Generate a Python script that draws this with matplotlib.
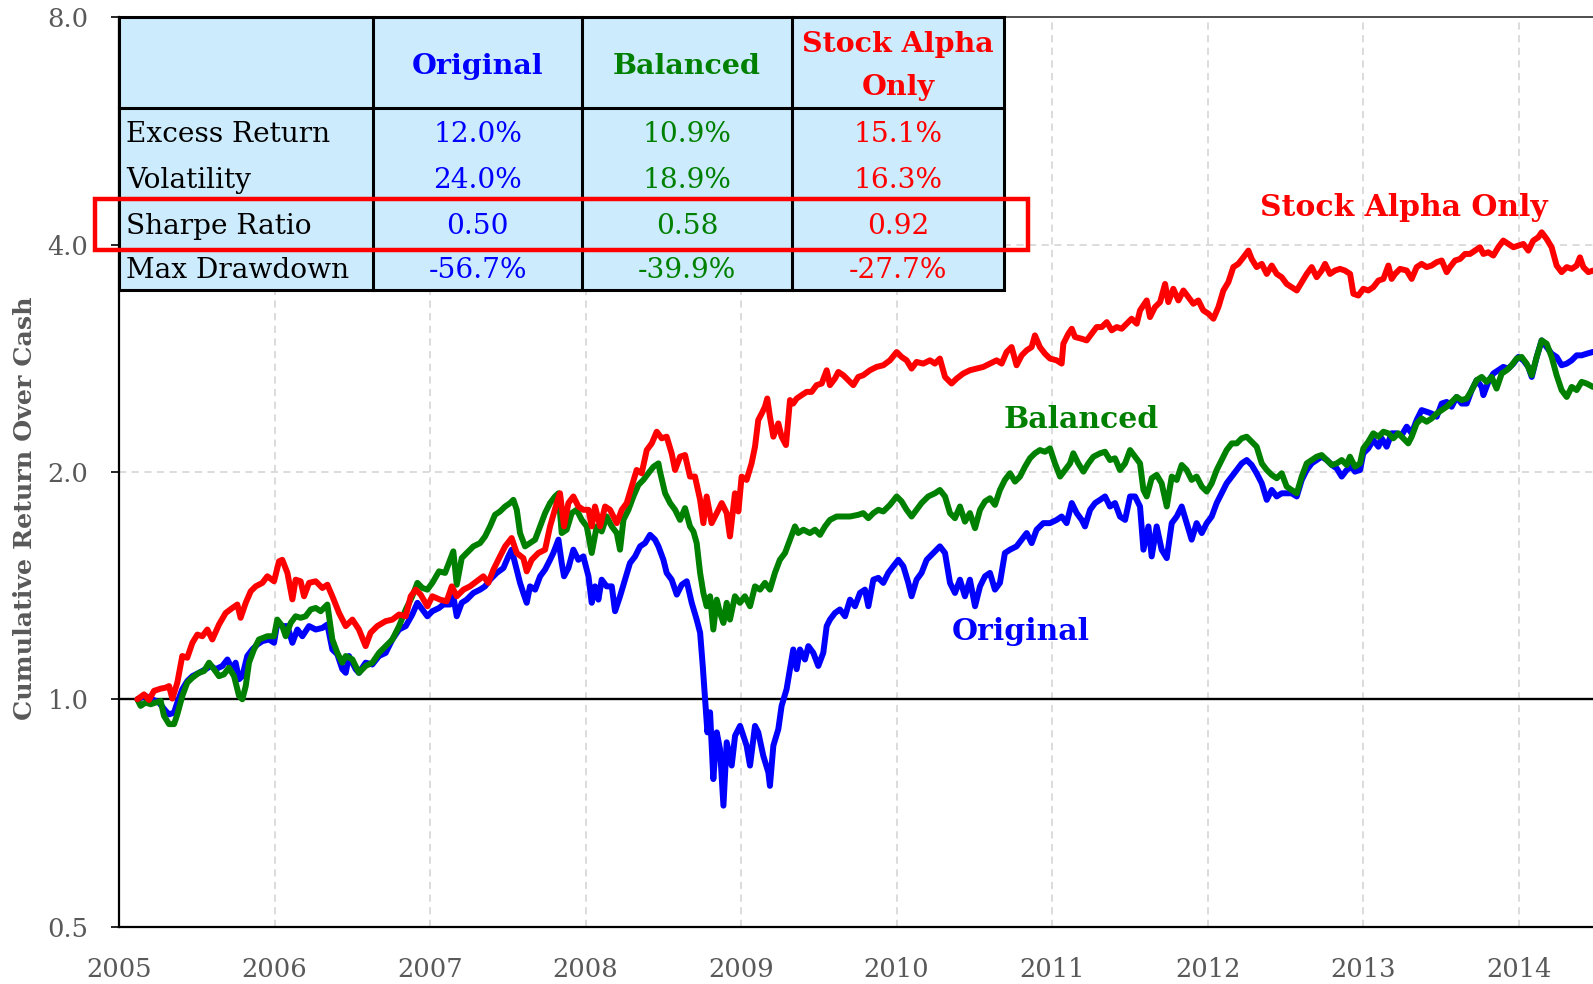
import matplotlib
matplotlib.use("Agg")
import matplotlib.pyplot as plt
from matplotlib.patches import Rectangle
from matplotlib.ticker import FixedLocator, FixedFormatter, NullLocator

# ---------------- data ----------------
red_t = [2005.118, 2005.161, 2005.193, 2005.225, 2005.268, 2005.300, 2005.322, 2005.343, 2005.375, 2005.407,
         2005.439, 2005.472, 2005.504, 2005.536, 2005.568, 2005.600, 2005.643, 2005.686, 2005.729, 2005.761,
         2005.782, 2005.815, 2005.847, 2005.879, 2005.922, 2005.954, 2005.997, 2006.029, 2006.050, 2006.083,
         2006.115, 2006.136, 2006.168, 2006.190, 2006.222, 2006.265, 2006.308, 2006.340, 2006.372, 2006.415,
         2006.458, 2006.501, 2006.543, 2006.586, 2006.618, 2006.661, 2006.715, 2006.758, 2006.801, 2006.844,
         2006.876, 2006.908, 2006.940, 2006.983, 2007.015, 2007.065, 2007.107, 2007.140, 2007.172, 2007.215,
         2007.257, 2007.300, 2007.343, 2007.375, 2007.408, 2007.450, 2007.483, 2007.525, 2007.558, 2007.600,
         2007.622, 2007.654, 2007.697, 2007.740, 2007.772, 2007.815, 2007.836, 2007.862, 2007.890, 2007.922,
         2007.954, 2007.986, 2008.019, 2008.040, 2008.061, 2008.094, 2008.126, 2008.158, 2008.201, 2008.233,
         2008.265, 2008.297, 2008.329, 2008.361, 2008.394, 2008.426, 2008.458, 2008.490, 2008.522, 2008.554,
         2008.576, 2008.608, 2008.640, 2008.672, 2008.704, 2008.737, 2008.758, 2008.779, 2008.811, 2008.844,
         2008.876, 2008.908, 2008.929, 2008.961, 2008.983, 2009.004, 2009.036, 2009.068, 2009.090, 2009.111,
         2009.133, 2009.154, 2009.169, 2009.186, 2009.208, 2009.240, 2009.261, 2009.289, 2009.315, 2009.336,
         2009.358, 2009.390, 2009.422, 2009.454, 2009.486, 2009.519, 2009.551, 2009.572, 2009.604, 2009.626,
         2009.658, 2009.690, 2009.722, 2009.754, 2009.786, 2009.829, 2009.872, 2009.915, 2009.958, 2010.001,
         2010.033, 2010.065, 2010.097, 2010.129, 2010.172, 2010.215, 2010.247, 2010.279, 2010.312, 2010.354,
         2010.387, 2010.429, 2010.472, 2010.515, 2010.558, 2010.601, 2010.644, 2010.676, 2010.708, 2010.740,
         2010.772, 2010.805, 2010.837, 2010.869, 2010.890, 2010.922, 2010.955, 2010.987, 2011.030, 2011.062,
         2011.073, 2011.105, 2011.127, 2011.148, 2011.191, 2011.223, 2011.255, 2011.287, 2011.320, 2011.352,
         2011.384, 2011.416, 2011.448, 2011.480, 2011.512, 2011.545, 2011.566, 2011.609, 2011.630, 2011.662,
         2011.695, 2011.727, 2011.748, 2011.780, 2011.813, 2011.845, 2011.877, 2011.909, 2011.941, 2011.973,
         2012.006, 2012.038, 2012.070, 2012.102, 2012.134, 2012.166, 2012.198, 2012.231, 2012.263, 2012.284,
         2012.316, 2012.349, 2012.381, 2012.413, 2012.445, 2012.477, 2012.509, 2012.541, 2012.574, 2012.606,
         2012.638, 2012.670, 2012.702, 2012.734, 2012.756, 2012.788, 2012.820, 2012.852, 2012.884, 2012.917,
         2012.938, 2012.970, 2013.002, 2013.034, 2013.066, 2013.099, 2013.131, 2013.163, 2013.184, 2013.206,
         2013.238, 2013.281, 2013.313, 2013.345, 2013.377, 2013.409, 2013.441, 2013.474, 2013.506, 2013.538,
         2013.559, 2013.592, 2013.624, 2013.656, 2013.688, 2013.720, 2013.752, 2013.774, 2013.806, 2013.838,
         2013.870, 2013.902, 2013.935, 2013.967, 2013.999, 2014.031, 2014.063, 2014.095, 2014.127, 2014.149,
         2014.181, 2014.213, 2014.245, 2014.277, 2014.310, 2014.342, 2014.374, 2014.395, 2014.417, 2014.449,
         2014.479]
red_v = [1.000, 1.015, 0.998, 1.026, 1.033, 1.036, 1.041, 1.002, 1.052, 1.141,
         1.135, 1.188, 1.218, 1.212, 1.237, 1.200, 1.256, 1.301, 1.321, 1.335,
         1.282, 1.342, 1.390, 1.411, 1.426, 1.455, 1.433, 1.523, 1.530, 1.470,
         1.356, 1.440, 1.433, 1.369, 1.426, 1.433, 1.404, 1.418, 1.369, 1.301,
         1.250, 1.275, 1.237, 1.176, 1.225, 1.250, 1.269, 1.275, 1.295, 1.288,
         1.369, 1.397, 1.376, 1.328, 1.369, 1.355, 1.348, 1.411, 1.369, 1.397,
         1.411, 1.433, 1.455, 1.426, 1.485, 1.546, 1.594, 1.635, 1.562, 1.538,
         1.477, 1.530, 1.562, 1.578, 1.694, 1.819, 1.874, 1.694, 1.819, 1.856,
         1.800, 1.782, 1.782, 1.694, 1.800, 1.694, 1.800, 1.782, 1.711, 1.782,
         1.819, 1.913, 2.012, 1.992, 2.138, 2.182, 2.261, 2.216, 2.227, 2.117,
         2.012, 2.095, 2.106, 1.972, 1.972, 1.837, 1.711, 1.856, 1.711, 1.764,
         1.819, 1.764, 1.643, 1.874, 1.773, 1.972, 1.952, 2.053, 2.160, 2.343,
         2.390, 2.440, 2.502, 2.367, 2.227, 2.319, 2.227, 2.171, 2.490, 2.464,
         2.502, 2.528, 2.553, 2.553, 2.606, 2.619, 2.727, 2.606, 2.659, 2.713,
         2.686, 2.646, 2.606, 2.672, 2.686, 2.727, 2.755, 2.769, 2.811, 2.883,
         2.840, 2.811, 2.741, 2.797, 2.783, 2.811, 2.783, 2.826, 2.672, 2.619,
         2.659, 2.700, 2.727, 2.741, 2.755, 2.783, 2.811, 2.783, 2.883, 2.927,
         2.769, 2.854, 2.898, 2.927, 3.033, 2.927, 2.868, 2.826, 2.811, 2.783,
         2.957, 3.048, 3.095, 3.018, 3.002, 2.987, 3.048, 3.111, 3.111, 3.158,
         3.080, 3.111, 3.095, 3.143, 3.191, 3.143, 3.273, 3.374, 3.207, 3.306,
         3.357, 3.548, 3.357, 3.496, 3.374, 3.478, 3.408, 3.340, 3.374, 3.273,
         3.240, 3.191, 3.306, 3.478, 3.567, 3.735, 3.772, 3.848, 3.928, 3.829,
         3.735, 3.772, 3.658, 3.753, 3.658, 3.622, 3.548, 3.513, 3.478, 3.567,
         3.658, 3.735, 3.622, 3.696, 3.772, 3.658, 3.696, 3.715, 3.696, 3.658,
         3.443, 3.425, 3.496, 3.478, 3.513, 3.585, 3.603, 3.753, 3.603, 3.658,
         3.715, 3.696, 3.603, 3.735, 3.772, 3.735, 3.753, 3.792, 3.811, 3.678,
         3.735, 3.811, 3.829, 3.888, 3.888, 3.928, 3.968, 3.888, 3.908, 3.869,
         3.968, 4.050, 4.008, 3.968, 3.988, 4.008, 3.928, 4.050, 4.090, 4.153,
         4.070, 3.968, 3.753, 3.678, 3.735, 3.715, 3.753, 3.848, 3.735, 3.678,
         3.696]

blue_t = [2005.118, 2005.171, 2005.214, 2005.257, 2005.300, 2005.322, 2005.354, 2005.375, 2005.407, 2005.439,
          2005.472, 2005.514, 2005.557, 2005.590, 2005.622, 2005.665, 2005.697, 2005.729, 2005.750, 2005.772,
          2005.793, 2005.825, 2005.857, 2005.890, 2005.922, 2005.965, 2005.997, 2006.018, 2006.050, 2006.083,
          2006.115, 2006.147, 2006.179, 2006.222, 2006.265, 2006.308, 2006.340, 2006.372, 2006.404, 2006.436,
          2006.458, 2006.479, 2006.522, 2006.543, 2006.586, 2006.629, 2006.672, 2006.715, 2006.758, 2006.801,
          2006.844, 2006.886, 2006.919, 2006.951, 2006.983, 2007.015, 2007.058,
          2007.086, 2007.129, 2007.150, 2007.172, 2007.204, 2007.236, 2007.279, 2007.322, 2007.354, 2007.386,
          2007.429, 2007.472, 2007.504, 2007.525, 2007.547, 2007.579, 2007.600, 2007.622, 2007.643, 2007.676,
          2007.708, 2007.740, 2007.772, 2007.793, 2007.826, 2007.847, 2007.862, 2007.890, 2007.922, 2007.954,
          2007.986, 2008.019, 2008.040, 2008.061, 2008.083, 2008.104, 2008.136, 2008.169, 2008.190, 2008.222,
          2008.254, 2008.286, 2008.319, 2008.351, 2008.383, 2008.415, 2008.447, 2008.469, 2008.501, 2008.522,
          2008.554, 2008.587, 2008.619, 2008.651, 2008.683, 2008.715, 2008.737, 2008.754, 2008.769, 2008.784,
          2008.801, 2008.822, 2008.844, 2008.865, 2008.887, 2008.908, 2008.940, 2008.962, 2008.994,
          2009.036, 2009.058, 2009.090, 2009.111, 2009.143, 2009.176, 2009.186, 2009.208, 2009.240, 2009.261,
          2009.293, 2009.315, 2009.336, 2009.358, 2009.379, 2009.411, 2009.433, 2009.465, 2009.497, 2009.529,
          2009.551, 2009.572, 2009.604, 2009.636, 2009.669, 2009.701, 2009.733, 2009.765, 2009.797, 2009.819,
          2009.851, 2009.883, 2009.915, 2009.947, 2009.979, 2010.012, 2010.044, 2010.076, 2010.097, 2010.129,
          2010.161, 2010.194, 2010.237, 2010.279, 2010.312, 2010.344, 2010.376, 2010.408, 2010.440, 2010.472,
          2010.505, 2010.537, 2010.569, 2010.601, 2010.633, 2010.665, 2010.697, 2010.730, 2010.772, 2010.805,
          2010.837, 2010.869, 2010.901, 2010.944,
          2010.987, 2011.030, 2011.062, 2011.094, 2011.127, 2011.159, 2011.191, 2011.212, 2011.245, 2011.277,
          2011.309, 2011.341, 2011.373, 2011.405, 2011.437, 2011.470, 2011.502, 2011.534, 2011.566, 2011.588,
          2011.620, 2011.641, 2011.673, 2011.705, 2011.738, 2011.770, 2011.802, 2011.834, 2011.866, 2011.898,
          2011.930, 2011.963, 2011.995, 2012.027, 2012.059, 2012.091, 2012.123, 2012.156, 2012.188, 2012.220,
          2012.252, 2012.284, 2012.316, 2012.349, 2012.381, 2012.413, 2012.445, 2012.477, 2012.509, 2012.541,
          2012.574, 2012.606, 2012.638, 2012.670, 2012.702, 2012.734, 2012.767, 2012.799, 2012.831, 2012.863,
          2012.895, 2012.927,
          2012.948, 2012.981, 2013.002, 2013.034, 2013.066, 2013.099, 2013.120, 2013.152, 2013.184, 2013.216,
          2013.249, 2013.281, 2013.313, 2013.345, 2013.377, 2013.409, 2013.441, 2013.474, 2013.506, 2013.538,
          2013.570, 2013.602, 2013.634, 2013.667, 2013.699, 2013.731, 2013.763, 2013.774, 2013.806, 2013.838,
          2013.870, 2013.902, 2013.935, 2013.967, 2013.999, 2014.031, 2014.063, 2014.085, 2014.117, 2014.149,
          2014.181, 2014.213, 2014.245, 2014.277, 2014.310, 2014.342, 2014.374, 2014.406, 2014.438, 2014.479]
blue_v = [1.000, 1.010, 1.000, 0.990, 0.965, 0.955, 0.960, 0.990, 1.031, 1.057,
          1.073, 1.084, 1.096, 1.107, 1.096, 1.107, 1.129, 1.096, 1.118, 1.063,
          1.073, 1.141, 1.164, 1.182, 1.194, 1.200, 1.188, 1.262, 1.250, 1.250,
          1.188, 1.237, 1.212, 1.250, 1.237, 1.243, 1.256, 1.164, 1.147, 1.096,
          1.084, 1.141, 1.096, 1.084, 1.118, 1.112, 1.141, 1.152, 1.200, 1.237,
          1.250, 1.295, 1.342, 1.315, 1.288, 1.308, 1.321,
          1.335, 1.335, 1.369, 1.288, 1.342, 1.355, 1.383, 1.397, 1.411, 1.440,
          1.470, 1.492, 1.546, 1.578, 1.515, 1.426, 1.383, 1.342, 1.411, 1.397,
          1.455, 1.485, 1.530, 1.562, 1.627, 1.515, 1.455, 1.492, 1.578, 1.530,
          1.546, 1.455, 1.342, 1.411, 1.355, 1.440, 1.411, 1.411, 1.308, 1.369,
          1.440, 1.515, 1.546, 1.594, 1.610, 1.651, 1.627, 1.594, 1.530, 1.470,
          1.440, 1.376, 1.418, 1.433, 1.342, 1.275, 1.225, 1.107, 1.000, 0.904,
          0.961, 0.784, 0.904, 0.859, 0.723, 0.877, 0.817, 0.895, 0.922,
          0.868, 0.817, 0.922, 0.904, 0.842, 0.800, 0.768, 0.868, 0.913, 0.980,
          1.031, 1.096, 1.164, 1.096, 1.164, 1.129, 1.176, 1.152, 1.107, 1.152,
          1.250, 1.275, 1.301, 1.315, 1.288, 1.355, 1.328, 1.383, 1.397, 1.328,
          1.440, 1.448, 1.426, 1.470, 1.500, 1.530, 1.500, 1.426, 1.369, 1.440,
          1.470, 1.530, 1.562, 1.594, 1.562, 1.426, 1.383, 1.440, 1.369, 1.440,
          1.328, 1.411, 1.455, 1.470, 1.397, 1.426, 1.562, 1.578, 1.594, 1.627,
          1.660, 1.610, 1.677, 1.711,
          1.711, 1.728, 1.746, 1.711, 1.819, 1.764, 1.728, 1.694, 1.782, 1.819,
          1.837, 1.856, 1.800, 1.819, 1.746, 1.728, 1.856, 1.856, 1.800, 1.578,
          1.694, 1.546, 1.694, 1.578, 1.538, 1.711, 1.746, 1.800, 1.711, 1.627,
          1.711, 1.660, 1.711, 1.746, 1.819, 1.874, 1.932, 1.972, 2.012, 2.053,
          2.074, 2.043, 1.992, 1.932, 1.837, 1.893, 1.856, 1.874, 1.874, 1.874,
          1.856, 1.952, 2.012, 2.053, 2.074, 2.095, 2.074, 2.043, 2.022, 1.972,
          2.012, 2.032,
          2.002, 2.012, 2.117, 2.149, 2.204, 2.160, 2.216, 2.160, 2.250, 2.250,
          2.238, 2.296, 2.250, 2.343, 2.415, 2.403, 2.390, 2.367, 2.464, 2.476,
          2.440, 2.514, 2.464, 2.464, 2.567, 2.646, 2.592, 2.528, 2.632, 2.700,
          2.727, 2.755, 2.741, 2.783, 2.840, 2.811, 2.755, 2.672, 2.840, 2.987,
          2.927, 2.868, 2.840, 2.769, 2.783, 2.811, 2.854, 2.854, 2.868, 2.884]

green_t = [2005.118, 2005.139, 2005.171, 2005.204, 2005.236, 2005.268, 2005.289, 2005.322, 2005.354, 2005.375,
           2005.407, 2005.439, 2005.472, 2005.514, 2005.547, 2005.579, 2005.611, 2005.643, 2005.675, 2005.707,
           2005.740, 2005.772, 2005.793, 2005.815, 2005.836, 2005.868, 2005.900, 2005.954, 2005.997, 2006.018,
           2006.050, 2006.072, 2006.104, 2006.136, 2006.168, 2006.200, 2006.233, 2006.265, 2006.297, 2006.340,
           2006.372, 2006.404, 2006.436, 2006.458, 2006.501, 2006.543, 2006.586, 2006.629, 2006.672, 2006.715,
           2006.758, 2006.801, 2006.844, 2006.886, 2006.919, 2006.951, 2006.983, 2007.015, 2007.058,
           2007.097, 2007.129, 2007.150, 2007.172, 2007.204, 2007.236, 2007.279, 2007.322, 2007.354, 2007.386,
           2007.418, 2007.450, 2007.483, 2007.515, 2007.536, 2007.558, 2007.579, 2007.611, 2007.643, 2007.676,
           2007.708, 2007.740, 2007.772, 2007.804, 2007.826, 2007.847, 2007.879, 2007.911, 2007.943, 2007.976,
           2008.008, 2008.040, 2008.072, 2008.104, 2008.136, 2008.169, 2008.201, 2008.222, 2008.244, 2008.276,
           2008.308, 2008.340, 2008.372, 2008.404, 2008.437, 2008.469, 2008.479, 2008.512, 2008.544, 2008.576,
           2008.608, 2008.640, 2008.672, 2008.694, 2008.715, 2008.737, 2008.758, 2008.779, 2008.801, 2008.822,
           2008.844, 2008.865, 2008.887, 2008.908,
           2008.929, 2008.961, 2008.993, 2009.025, 2009.058, 2009.090, 2009.122, 2009.154, 2009.186, 2009.218,
           2009.250, 2009.283, 2009.315, 2009.347, 2009.368, 2009.401, 2009.443, 2009.476, 2009.508, 2009.540,
           2009.572, 2009.615, 2009.658, 2009.701, 2009.754, 2009.786, 2009.819, 2009.851, 2009.883, 2009.915,
           2009.958, 2010.001, 2010.033, 2010.065, 2010.097, 2010.129, 2010.161, 2010.204, 2010.247, 2010.279,
           2010.312, 2010.344, 2010.376, 2010.408, 2010.440, 2010.472, 2010.505, 2010.537, 2010.569, 2010.601,
           2010.633, 2010.665, 2010.697, 2010.730, 2010.762, 2010.794, 2010.826, 2010.858, 2010.890, 2010.922,
           2010.955, 2010.987,
           2011.019, 2011.052, 2011.084, 2011.116, 2011.137, 2011.169, 2011.202, 2011.234, 2011.266, 2011.309,
           2011.341, 2011.373, 2011.405, 2011.437, 2011.470, 2011.502, 2011.534, 2011.566, 2011.588, 2011.609,
           2011.641, 2011.673, 2011.705, 2011.738, 2011.770, 2011.802, 2011.834, 2011.866, 2011.898, 2011.930,
           2011.963, 2011.995, 2012.027, 2012.059, 2012.091, 2012.123, 2012.156, 2012.188, 2012.220, 2012.252,
           2012.284, 2012.316, 2012.349, 2012.381, 2012.413, 2012.445, 2012.477, 2012.509, 2012.541, 2012.574,
           2012.606, 2012.638, 2012.670, 2012.702, 2012.734, 2012.767, 2012.799, 2012.831, 2012.863, 2012.895,
           2012.916, 2012.948, 2012.981, 2013.002, 2013.034, 2013.066, 2013.099, 2013.131, 2013.163, 2013.195,
           2013.227, 2013.259, 2013.291, 2013.313, 2013.345, 2013.377, 2013.409, 2013.441, 2013.474, 2013.506,
           2013.538, 2013.570, 2013.602, 2013.634, 2013.667, 2013.699, 2013.731, 2013.763, 2013.795, 2013.827,
           2013.859, 2013.892, 2013.924, 2013.956, 2013.988, 2014.020, 2014.052, 2014.085, 2014.117, 2014.149,
           2014.181, 2014.213, 2014.245, 2014.277, 2014.310, 2014.342, 2014.374, 2014.406, 2014.438, 2014.479]
green_v = [1.000, 0.980, 0.990, 0.985, 0.990, 0.995, 0.951, 0.927, 0.927, 0.955,
           1.010, 1.052, 1.068, 1.084, 1.090, 1.118, 1.096, 1.073, 1.079, 1.101,
           1.073, 1.010, 1.000, 1.041, 1.118, 1.164, 1.200, 1.212, 1.212, 1.275,
           1.250, 1.212, 1.262, 1.288, 1.282, 1.288, 1.315, 1.321, 1.308, 1.335,
           1.200, 1.152, 1.118, 1.141, 1.129, 1.084, 1.107, 1.118, 1.152, 1.176,
           1.200, 1.250, 1.315, 1.369, 1.426, 1.404, 1.397, 1.426, 1.477,
           1.470, 1.530, 1.570, 1.418, 1.538, 1.562, 1.594, 1.610, 1.643, 1.694,
           1.755, 1.773, 1.800, 1.819, 1.837, 1.782, 1.660, 1.594, 1.610, 1.627,
           1.694, 1.764, 1.819, 1.856, 1.874, 1.660, 1.677, 1.764, 1.782, 1.728,
           1.694, 1.562, 1.694, 1.668, 1.746, 1.694, 1.660, 1.578, 1.728, 1.782,
           1.856, 1.922, 1.952, 1.992, 2.032, 2.053, 2.002, 1.874, 1.819, 1.782,
           1.728, 1.791, 1.694, 1.668, 1.610, 1.470, 1.383, 1.328, 1.369, 1.237,
           1.355, 1.301, 1.262, 1.342,
           1.275, 1.369, 1.342, 1.369, 1.328, 1.411, 1.397, 1.426, 1.397, 1.470,
           1.530, 1.562, 1.627, 1.694, 1.660, 1.677, 1.660, 1.677, 1.651, 1.694,
           1.728, 1.746, 1.746, 1.746, 1.755, 1.764, 1.737, 1.764, 1.782, 1.773,
           1.809, 1.856, 1.828, 1.782, 1.746, 1.782, 1.819, 1.856, 1.874, 1.893,
           1.856, 1.764, 1.737, 1.800, 1.719, 1.764, 1.685, 1.782, 1.828, 1.846,
           1.809, 1.893, 1.952, 1.992, 1.942, 1.972, 2.032, 2.085, 2.117, 2.138,
           2.127, 2.149,
           2.053, 1.972, 2.012, 2.053, 2.117, 2.053, 2.002, 2.053, 2.095, 2.117,
           2.127, 2.074, 2.085, 2.012, 2.053, 2.138, 2.095, 2.053, 1.893, 1.856,
           1.962, 1.982, 1.932, 1.800, 1.972, 1.952, 2.043, 2.012, 1.952, 1.972,
           1.913, 1.884, 1.932, 2.012, 2.074, 2.138, 2.182, 2.182, 2.216, 2.227,
           2.193, 2.160, 2.053, 2.012, 1.982, 1.962, 1.992, 1.913, 1.893, 1.874,
           1.972, 2.053, 2.074, 2.095, 2.106, 2.074, 2.043, 2.053, 2.074, 2.043,
           2.095, 2.032, 2.053, 2.149, 2.193, 2.250, 2.227, 2.261, 2.250, 2.216,
           2.250, 2.216, 2.182, 2.227, 2.319, 2.354, 2.331, 2.354, 2.390, 2.415,
           2.440, 2.476, 2.514, 2.490, 2.502, 2.567, 2.646, 2.672, 2.632, 2.672,
           2.579, 2.700, 2.727, 2.769, 2.826, 2.840, 2.783, 2.686, 2.840, 2.987,
           2.957, 2.840, 2.686, 2.567, 2.514, 2.592, 2.567, 2.632, 2.619, 2.592]

year_ticks = [2005, 2006, 2007, 2008, 2009, 2010, 2011, 2012, 2013, 2014]
y_ticks = [0.5, 1.0, 2.0, 4.0, 8.0]
y_tick_labels = ["0.5", "1.0", "2.0", "4.0", "8.0"]

table_cols = ["Original", "Balanced", "Stock Alpha\nOnly"]
table_rows = ["Excess Return", "Volatility", "Sharpe Ratio", "Max Drawdown"]
table_vals = [["12.0%", "10.9%", "15.1%"],
              ["24.0%", "18.9%", "16.3%"],
              ["0.50", "0.58", "0.92"],
              ["-56.7%", "-39.9%", "-27.7%"]]

BLUE, GREEN, RED = "#0000FF", "#008000", "#FF0000"
col_colors = [BLUE, GREEN, RED]
GRAY = "#595959"
FONT = "DejaVu Serif"

# ---------------- figure ----------------
W, H = 1593, 984
fig = plt.figure(figsize=(W / 100, H / 100), dpi=100)
plt.rcParams["font.family"] = FONT


def fx(x):
    return x / W


def fy(y):
    return 1 - y / H


ax = fig.add_axes([fx(119), fy(926.6), 1 - fx(119), fy(17.3) - fy(926.6)])
ax.set_yscale("log", base=2)
ax.set_ylim(0.5, 8.0)
ax.set_xlim(2005, 2014.479)

LW = 4.3
ax.plot(blue_t, blue_v, color=BLUE, lw=LW, solid_joinstyle="round", solid_capstyle="round", zorder=3)
ax.plot(green_t, green_v, color=GREEN, lw=LW, solid_joinstyle="round", solid_capstyle="round", zorder=4)
ax.plot(red_t, red_v, color=RED, lw=LW, solid_joinstyle="round", solid_capstyle="round", zorder=5)

ax.yaxis.set_major_locator(FixedLocator(y_ticks))
ax.yaxis.set_major_formatter(FixedFormatter(y_tick_labels))
ax.yaxis.set_minor_locator(NullLocator())
ax.set_xticks(year_ticks)
ax.set_xticklabels([str(y) for y in year_ticks])

ax.tick_params(axis="y", length=6, width=1.2, color="black", pad=16,
               labelsize=18.5, labelcolor=GRAY)
ax.tick_params(axis="x", length=0, pad=22, labelsize=18.5, labelcolor=GRAY)

for yr in year_ticks[1:]:
    ax.axvline(yr, color="#D9D9D9", lw=1.3, ls=(0, (4, 3)), zorder=1)
for yv in [2.0, 4.0]:
    ax.axhline(yv, color="#D9D9D9", lw=1.3, ls=(0, (4, 3)), zorder=1)
ax.axhline(1.0, color="black", lw=1.7, zorder=2)

ax.spines["right"].set_visible(False)
ax.spines["left"].set_linewidth(1.6)
ax.spines["bottom"].set_linewidth(1.6)
ax.spines["top"].set_linewidth(1.3)
ax.spines["top"].set_color("#404040")

fig.text(fx(25), fy(508), "Cumulative Return Over Cash", rotation=90, ha="center",
         va="center", fontsize=18.3, fontweight="bold", color=GRAY)

# series labels
fig.text(fx(1404), fy(207), "Stock Alpha Only", ha="center", va="center",
         fontsize=21.5, fontweight="bold", color=RED)
fig.text(fx(1081), fy(420), "Balanced", ha="center", va="center",
         fontsize=21.5, fontweight="bold", color=GREEN)
fig.text(fx(1021), fy(631), "Original", ha="center", va="center",
         fontsize=21.5, fontweight="bold", color=BLUE)

# ---------------- table ----------------
col_x = [119, 373, 582, 792, 1004]
row_y = [17, 108, 290]
body_y = [135, 181, 226, 271]
FILL = "#CCEBFD"
fig.add_artist(Rectangle((fx(col_x[0]), fy(row_y[2])), fx(col_x[-1]) - fx(col_x[0]),
                         fy(row_y[0]) - fy(row_y[2]), transform=fig.transFigure,
                         facecolor=FILL, edgecolor="black", lw=2.2, zorder=10))
for cx in col_x[1:-1]:
    fig.add_artist(plt.Line2D([fx(cx), fx(cx)], [fy(row_y[0]), fy(row_y[2])],
                              transform=fig.transFigure, color="black", lw=2.2, zorder=11))
fig.add_artist(plt.Line2D([fx(col_x[0]), fx(col_x[-1])], [fy(row_y[1]), fy(row_y[1])],
                          transform=fig.transFigure, color="black", lw=2.2, zorder=11))

for j, name in enumerate(table_cols):
    cxm = (col_x[j + 1] + col_x[j + 2]) / 2
    fig.text(fx(cxm), fy(66), name, ha="center", va="center",
             fontsize=20.5, fontweight="bold", color=col_colors[j], zorder=12,
             linespacing=1.75)

for i, rname in enumerate(table_rows):
    fig.text(fx(126), fy(body_y[i]), rname, ha="left", va="center",
             fontsize=20.2, color="black", zorder=12)
    for j in range(3):
        cxm = (col_x[j + 1] + col_x[j + 2]) / 2
        fig.text(fx(cxm), fy(body_y[i]), table_vals[i][j], ha="center", va="center",
                 fontsize=20.2, color=col_colors[j], zorder=12)

# highlight box around Sharpe Ratio
fig.add_artist(Rectangle((fx(95), fy(250)), fx(1028) - fx(95), fy(199) - fy(250),
                         transform=fig.transFigure, facecolor="none", edgecolor=RED,
                         lw=3.2, zorder=13))

fig.savefig("out.png", dpi=100)
